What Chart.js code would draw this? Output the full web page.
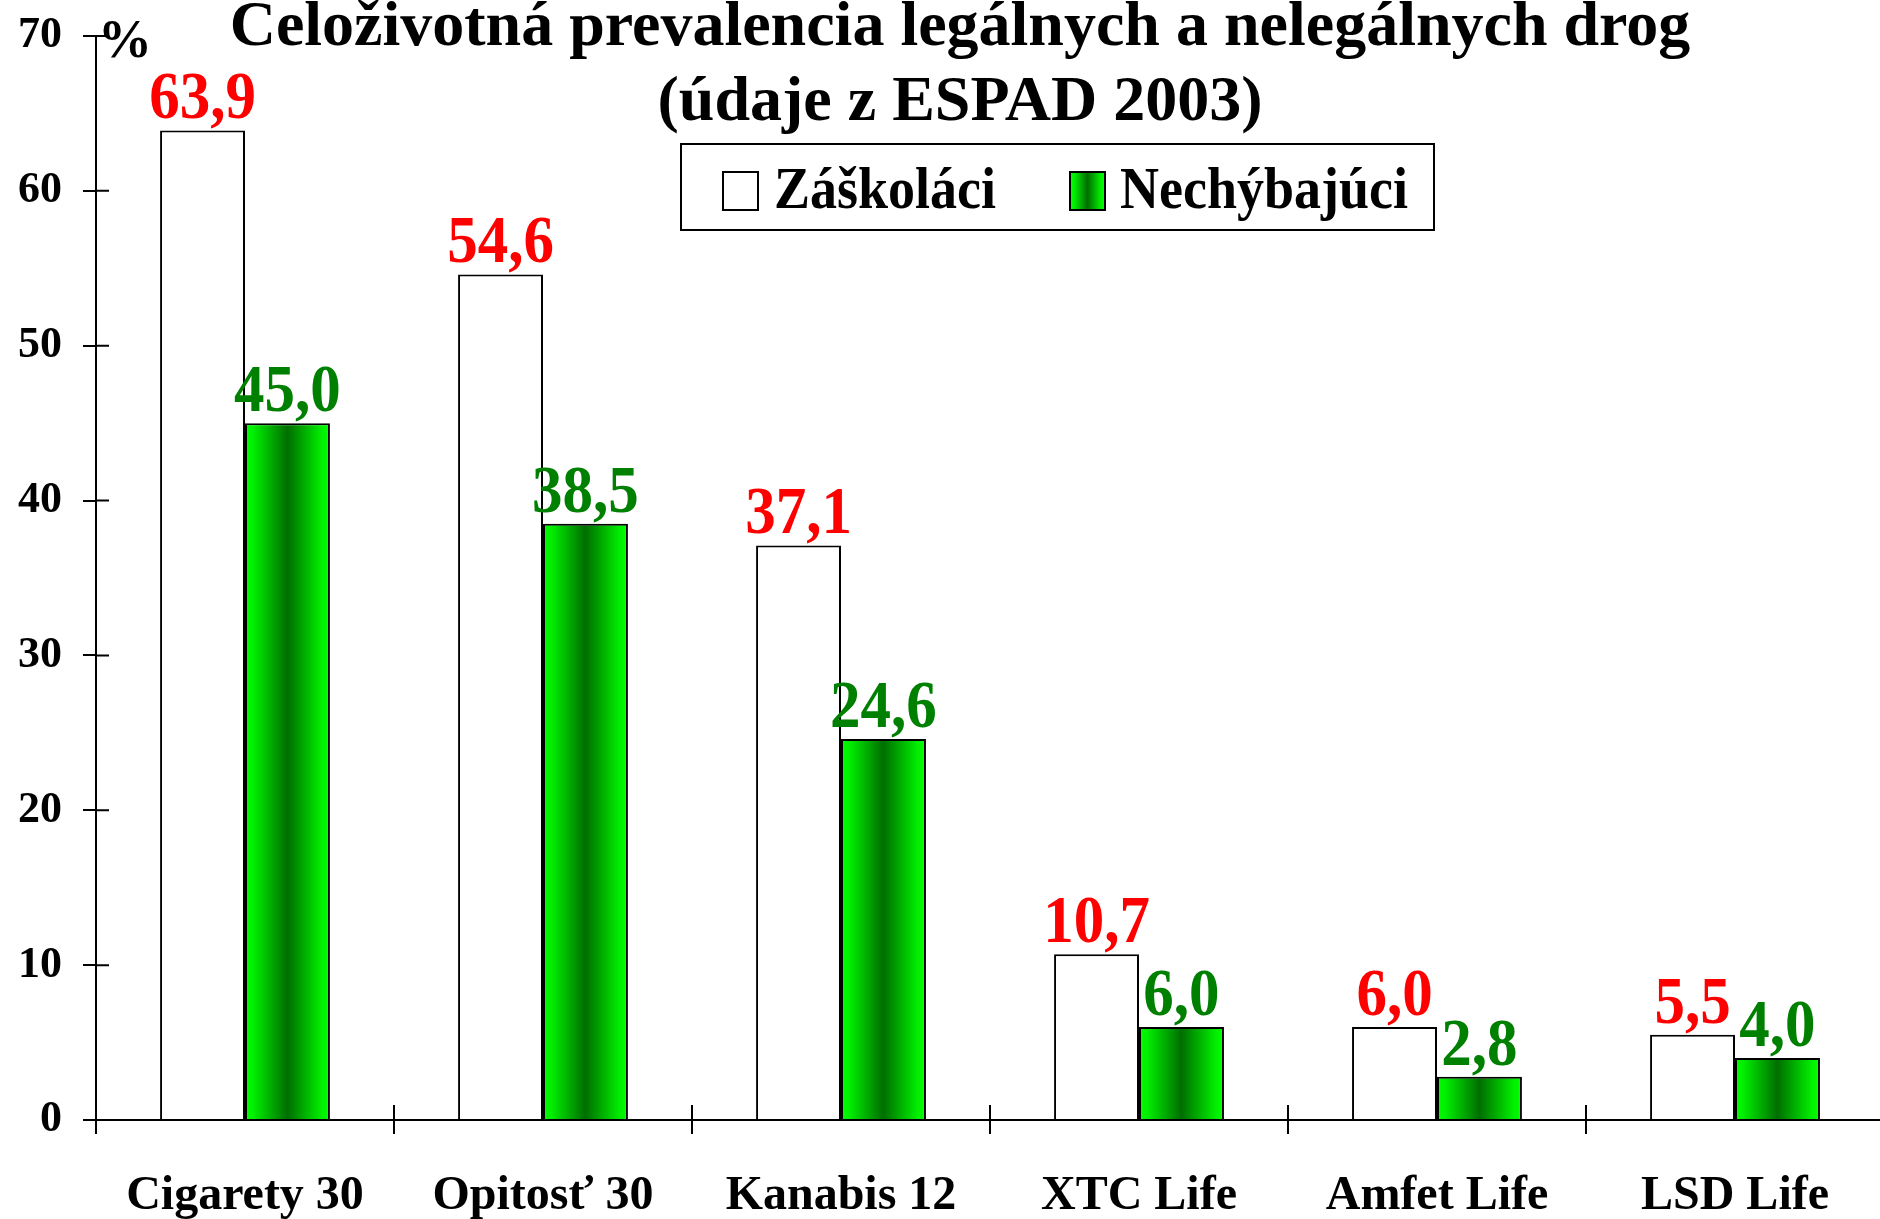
<!DOCTYPE html>
<html lang="sk">
<head>
<meta charset="utf-8">
<title>Celoživotná prevalencia legálnych a nelegálnych drog</title>
<script src="https://cdn.jsdelivr.net/npm/chart.js@4.4.1/dist/chart.umd.min.js"></script>
<style>
    html, body { margin: 0; padding: 0; background: #fff; overflow: hidden; }
    body { width: 1880px; height: 1219px; position: relative; font-family: 'Liberation Serif', 'Times New Roman', serif; font-weight: bold; color: #000; }
    #chart { position: absolute; left: 0; top: 0; }
    #title { position: absolute; left: 0; top: -14px; width: 1920px; text-align: center; font-size: 64px; line-height: 75px; }
    #unit { position: absolute; left: 98px; top: 9px; font-size: 54px; line-height: 60px; }
    #legend { position: absolute; left: 680px; top: 143px; width: 751px; height: 84px; border: 2px solid #000; background: #fff; }
    #legend .box { position: absolute; top: 26px; width: 33px; height: 36px; border: 2px solid #000; }
    #legend .txt { position: absolute; top: 8px; font-size: 54px; line-height: 64px; white-space: nowrap; transform: scaleY(1.1); transform-origin: left top; }
</style>
</head>
<body>
<canvas id="chart" width="1890" height="1219"></canvas>
<div id="title">Celoživotná prevalencia legálnych a nelegálnych drog<br>(údaje z ESPAD 2003)</div>
<div id="unit">%</div>
<div id="legend"></div>

<script>
// data
const categories = ['Cigarety 30', 'Opitosť 30', 'Kanabis 12', 'XTC Life', 'Amfet Life', 'LSD Life'];
const seriesNames = ['Záškoláci', 'Nechýbajúci'];
const zaskolaci = [63.9, 54.6, 37.1, 10.7, 6.0, 5.5];
const nechybajuci = [45.0, 38.5, 24.6, 6.0, 2.8, 4.0];
const yTicks = [0, 10, 20, 30, 40, 50, 60, 70];

const CAT_PCT = 0.57;
const FONT = 'Liberation Serif';
const labelColors = ['#ff0000', '#008000'];

document.addEventListener('DOMContentLoaded', () => {

    // HTML legend, framed like the original
    const legendEl = document.getElementById('legend');
    legendEl.innerHTML =
        '<div class="box" style="left:40px;background:#fff"></div>' +
        '<div class="txt" style="left:92px">' + seriesNames[0] + '</div>' +
        '<div class="box" style="left:387px;background:linear-gradient(to right,#00ff00,#00ee00 10%,#006e00 50%,#00ee00 90%,#00ff00)"></div>' +
        '<div class="txt" style="left:438px">' + seriesNames[1] + '</div>';

    // green bars: bright edges, dark middle
    function greenFill(c) {
        const chart = c.chart;
        const xs = chart.scales.x;
        if (!xs || c.dataIndex === undefined) return '#00c000';
        const step = xs.width / categories.length;
        const w = step * CAT_PCT / 2;
        const center = xs.getPixelForValue(c.dataIndex);
        // scales are not laid out yet on the very first pass
        if (!isFinite(center) || !isFinite(w) || w <= 0) return '#00c000';
        const g = chart.ctx.createLinearGradient(center, 0, center + w, 0);
        g.addColorStop(0, '#00ff00');
        g.addColorStop(0.1, '#00ee00');
        g.addColorStop(0.5, '#006e00');
        g.addColorStop(0.9, '#00ee00');
        g.addColorStop(1, '#00ff00');
        return g;
    }

    // value labels above each bar (the original font is a bit taller)
    const valueLabels = {
        id: 'valueLabels',
        afterDatasetsDraw(chart) {
            const ctx = chart.ctx;
            chart.data.datasets.forEach((ds, di) => {
                const meta = chart.getDatasetMeta(di);
                meta.data.forEach((bar, i) => {
                    const txt = ds.data[i].toFixed(1).replace('.', ',');
                    ctx.save();
                    ctx.font = 'bold 61px "' + FONT + '"';
                    ctx.textAlign = 'center';
                    ctx.textBaseline = 'alphabetic';
                    ctx.fillStyle = labelColors[di];
                    ctx.translate(bar.x, bar.y - 12);
                    ctx.scale(1, 1.1);
                    ctx.fillText(txt, 0, 0);
                    ctx.restore();
                });
            });
        }
    };

    // tick marks cross the axis lines (inner half)
    const crossTicks = {
        id: 'crossTicks',
        afterDraw(chart) {
            const ctx = chart.ctx;
            const area = chart.chartArea;
            const xs = chart.scales.x;
            const ys = chart.scales.y;
            ctx.save();
            ctx.strokeStyle = '#000';
            ctx.lineWidth = 2;
            ctx.beginPath();
            ys.ticks.forEach((t, i) => {
                const y = ys.getPixelForTick(i);
                ctx.moveTo(area.left, y);
                ctx.lineTo(area.left + 13, y);
            });
            for (let i = 0; i <= categories.length; i++) {
                const x = xs.getPixelForValue(i - 0.5);
                ctx.moveTo(x, area.bottom);
                ctx.lineTo(x, area.bottom - 15);
            }
            ctx.stroke();
            ctx.restore();
        }
    };

    const ctx = document.getElementById('chart').getContext('2d');

    new Chart(ctx, {
        type: 'bar',
        data: {
            labels: categories,
            datasets: [{
                label: seriesNames[0],
                data: zaskolaci,
                backgroundColor: '#ffffff',
                borderColor: '#000',
                borderWidth: 2,
                categoryPercentage: CAT_PCT,
                barPercentage: 1.0
            }, {
                label: seriesNames[1],
                data: nechybajuci,
                backgroundColor: greenFill,
                borderColor: '#000',
                borderWidth: 2,
                categoryPercentage: CAT_PCT,
                barPercentage: 1.0
            }]
        },
        options: {
            responsive: false,
            animation: false,
            devicePixelRatio: 1,
            layout: {
                padding: { top: 36, right: 6, bottom: 0, left: 0 }
            },
            plugins: {
                legend: { display: false },
                title: { display: false },
                tooltip: { enabled: false }
            },
            scales: {
                x: {
                    offset: true,
                    grid: {
                        offset: true,
                        drawOnChartArea: false,
                        drawTicks: true,
                        tickLength: 14,
                        color: '#000',
                        lineWidth: 2
                    },
                    border: { display: true, color: '#000', width: 2 },
                    ticks: {
                        color: '#000',
                        padding: 34,
                        maxRotation: 0,
                        autoSkip: false,
                        font: { family: FONT, weight: 'bold', size: 48 }
                    },
                    afterFit(scale) { scale.height = 99; }
                },
                y: {
                    min: 0,
                    max: 70,
                    afterBuildTicks(scale) {
                        scale.ticks = yTicks.map(v => ({ value: v }));
                    },
                    grid: {
                        drawOnChartArea: false,
                        drawTicks: true,
                        tickLength: 13,
                        color: '#000',
                        lineWidth: 2
                    },
                    border: { display: true, color: '#000', width: 2 },
                    ticks: {
                        color: '#000',
                        padding: 21,
                        font: { family: FONT, weight: 'bold', size: 44 }
                    },
                    afterFit(scale) {
                        scale.width = 96;
                        scale.paddingTop = 0;
                        scale.paddingBottom = 0;
                    }
                }
            }
        },
        plugins: [valueLabels, crossTicks]
    });
});
</script>
</body>
</html>
